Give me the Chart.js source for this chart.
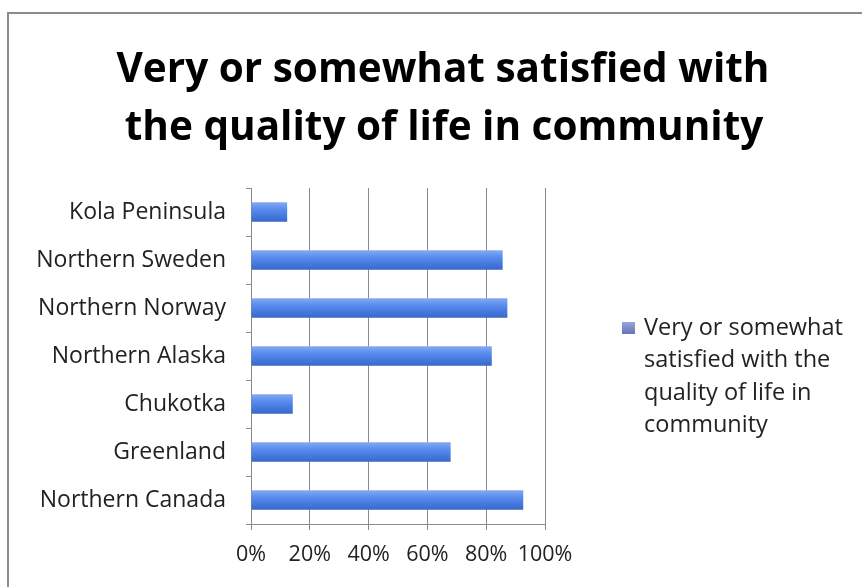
<!DOCTYPE html>
<html><head><meta charset="utf-8">
<script src="https://cdn.jsdelivr.net/npm/chart.js@4/dist/chart.umd.min.js"></script>
<style>html,body{margin:0;padding:0;background:#fff}#wrap{width:862px;height:587px;position:relative}</style>
</head><body><div id="wrap"><canvas id="c" width="862" height="587"></canvas></div>
<script>
const categories = ["Kola Peninsula","Northern Sweden","Northern Norway","Northern Alaska","Chukotka","Greenland","Northern Canada"];
const satisfied = [12.3, 85.6, 87.2, 81.9, 14.2, 67.9, 92.6];
const seriesName = "Very or somewhat satisfied with the quality of life in community";
const titleLines = ["Very or somewhat satisfied with","the quality of life in community"];
const legendLines = ["Very or somewhat","satisfied with the","quality of life in","community"];
const xTicks = [0,20,40,60,80,100];

const FONT = "'Open Sans'";

const framePlugin = {
  id:'frame',
  beforeDraw(chart){
    const ctx = chart.ctx;
    ctx.save();
    ctx.fillStyle='#fff';ctx.fillRect(0,0,chart.width,chart.height);
    ctx.strokeStyle='#8c8c8c';ctx.lineWidth=2;
    ctx.strokeRect(8,13,862,590);
    ctx.restore();
  }
};
const titlePlugin = {
  id:'bigTitle',
  afterDraw(chart){
    const ctx = chart.ctx;
    ctx.save();
    ctx.fillStyle='#000';
    ctx.font = `bold 40.5px ${FONT}`;
    ctx.textAlign='center';ctx.textBaseline='alphabetic';
    ctx.fillText(titleLines[0],443,82);
    ctx.fillText(titleLines[1],444,140);
    ctx.restore();
  }
};
const legendPlugin = {
  id:'sideLegend',
  afterDraw(chart){
    const ctx = chart.ctx;
    ctx.save();
    const g = ctx.createLinearGradient(0,322,0,335);
    g.addColorStop(0,'#9aa6d8');g.addColorStop(1,'#5d6fb8');
    ctx.fillStyle=g;
    ctx.fillRect(622,322,13,12);
    ctx.fillStyle='#222';
    ctx.font = `23.5px ${FONT}`;
    ctx.textBaseline='middle';
    legendLines.forEach((t,i)=>ctx.fillText(t,644,328+i*32.5));
    ctx.restore();
  }
};

new Chart(document.getElementById('c'),{
  type:'bar',
  data:{labels:categories,datasets:[{label:seriesName,data:satisfied,
    backgroundColor(ctx){
      const chart=ctx.chart; const ys=chart.scales.y;
      if(!ys || ctx.dataIndex===undefined) return '#4f81e0';
      const yc=ys.getPixelForValue(ctx.dataIndex);
      if(!isFinite(yc)) return '#4f81e0';
      const g=chart.ctx.createLinearGradient(0,yc-10,0,yc+10);
      g.addColorStop(0,'#86acf2');g.addColorStop(0.35,'#5b8ded');g.addColorStop(0.8,'#4072d8');g.addColorStop(1,'#3a66c4');
      return g;
    },
    borderWidth:0,barPercentage:0.41,categoryPercentage:1}]},
  options:{
    indexAxis:'y',responsive:false,animation:false,devicePixelRatio:1,
    layout:{padding:{left:0,right:317,top:188,bottom:23}},
    plugins:{legend:{display:false},tooltip:{enabled:false},title:{display:false}},
    scales:{
      x:{min:0,max:100,afterBuildTicks(s){s.ticks=xTicks.map(v=>({value:v}));},
        afterFit(s){s.height=40;},
        ticks:{callback:v=>v+'%',color:'#222',font:{family:FONT,size:21.5},padding:12,maxRotation:0,minRotation:0,autoSkip:false},
        grid:{color:'#8a8a8a',lineWidth:1,tickLength:6,drawTicks:true},
        border:{color:'#8a8a8a',width:1}},
      y:{afterFit(s){s.width=251;},
        ticks:{color:'#222',font:{family:FONT,size:23},padding:20,autoSkip:false},
        grid:{drawOnChartArea:false,color:'#8a8a8a',tickLength:5,offset:true},
        border:{color:'#8a8a8a',width:1}}
    }
  },
  plugins:[framePlugin,titlePlugin,legendPlugin]
});
</script></body></html>
